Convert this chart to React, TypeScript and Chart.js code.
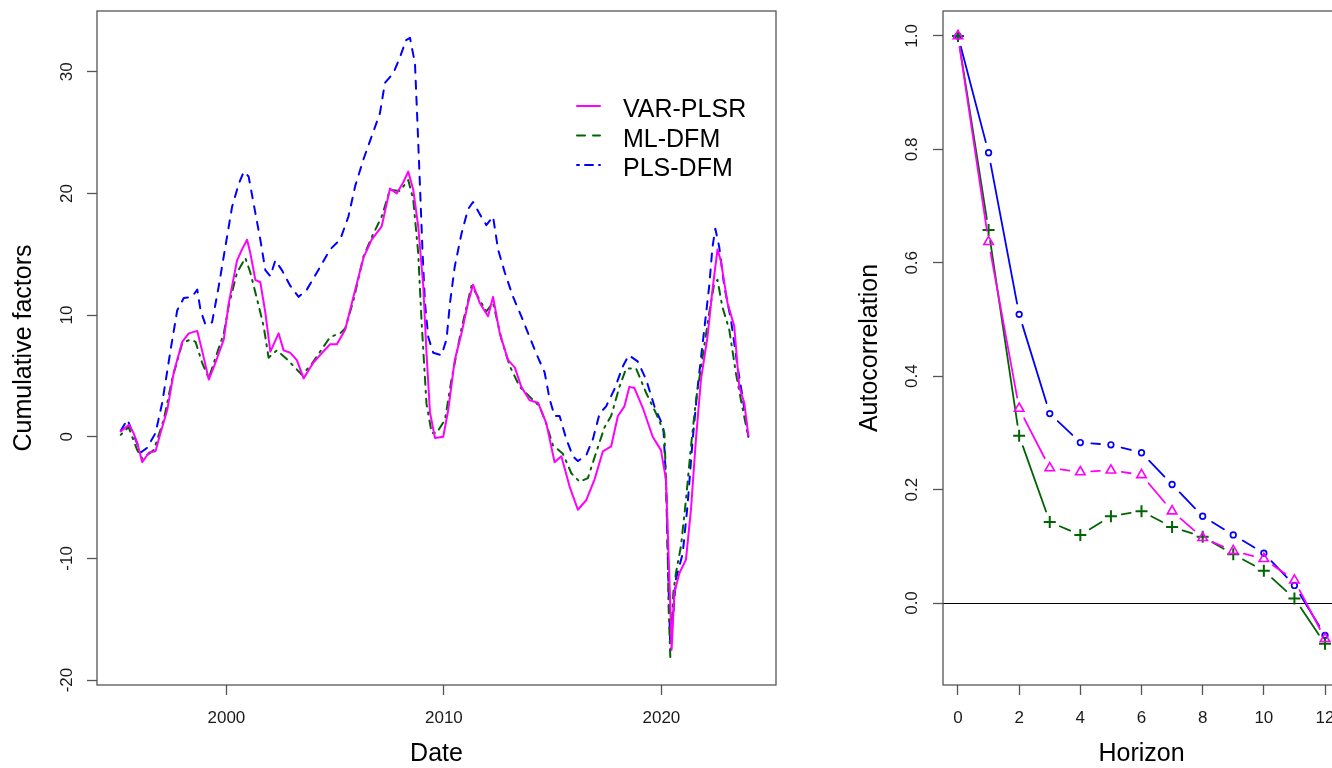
import React, { useEffect, useRef } from "react";
import { Chart, registerables } from "chart.js";

Chart.register(...registerables);

// ---------- Left panel: cumulative factors ----------
const varDates = [1995.14, 1995.52, 1995.73, 1995.9, 1996.13, 1996.44, 1996.74, 1996.97, 1997.28, 1997.58, 1997.97, 1998.27, 1998.66, 1998.88, 1999.19, 1999.5, 1999.88, 2000.11, 2000.49, 2000.72, 2000.95, 2001.1, 2001.33, 2001.56, 2001.79, 2002.02, 2002.4, 2002.63, 2002.94, 2003.24, 2003.55, 2004.0, 2004.4, 2004.77, 2005.08, 2005.46, 2005.84, 2006.3, 2006.68, 2007.14, 2007.52, 2007.83, 2008.13, 2008.36, 2008.59, 2008.82, 2009.05, 2009.2, 2009.36, 2009.59, 2009.97, 2010.2, 2010.5, 2010.81, 2011.11, 2011.34, 2011.65, 2012.03, 2012.26, 2012.57, 2012.95, 2013.26, 2013.56, 2013.94, 2014.33, 2014.71, 2015.09, 2015.4, 2015.78, 2016.16, 2016.55, 2016.93, 2017.31, 2017.69, 2018.0, 2018.3, 2018.53, 2018.76, 2019.14, 2019.6, 2019.98, 2020.21, 2020.37, 2020.47, 2020.6, 2020.83, 2021.13, 2021.36, 2021.59, 2021.82, 2022.12, 2022.35, 2022.58, 2022.73, 2023.04, 2023.35, 2023.58, 2023.81, 2024.0];
const varValues = [0.44, 0.99, 0.3, -0.5, -2.1, -1.3, -1.2, 0.3, 2.2, 5.3, 7.8, 8.5, 8.7, 7.1, 4.7, 6.1, 8.0, 11.0, 14.5, 15.4, 16.2, 15.1, 12.9, 12.7, 10.2, 7.0, 8.5, 7.1, 6.9, 6.3, 4.8, 6.1, 6.9, 7.6, 7.6, 8.8, 11.5, 14.7, 16.2, 17.3, 20.4, 20.0, 20.9, 21.8, 20.3, 17.3, 12.4, 6.9, 2.0, -0.1, 0.0, 2.2, 6.3, 8.5, 11.0, 12.5, 11.0, 9.9, 11.5, 8.5, 6.3, 5.7, 4.1, 3.0, 2.8, 1.1, -2.1, -1.6, -4.1, -6.0, -5.2, -3.5, -1.2, -0.8, 1.7, 2.5, 4.1, 4.0, 2.4, 0.0, -1.1, -3.5, -11.7, -17.5, -12.8, -11.2, -10.1, -6.0, -0.2, 4.7, 8.2, 12.1, 15.4, 14.5, 11.0, 9.1, 4.1, 2.8, 0.1];

const mlDates = [1995.14, 1995.5, 1995.9, 1996.13, 1996.66, 1997.12, 1997.5, 1997.97, 1998.35, 1998.58, 1998.88, 1999.19, 1999.5, 1999.88, 2000.11, 2000.49, 2000.87, 2001.1, 2001.41, 2001.71, 2001.94, 2002.32, 2002.71, 2003.09, 2003.47, 2003.85, 2004.31, 2004.77, 2005.23, 2005.46, 2005.84, 2006.3, 2006.68, 2007.14, 2007.52, 2007.98, 2008.36, 2008.59, 2008.82, 2008.97, 2009.2, 2009.44, 2009.66, 2010.05, 2010.35, 2010.81, 2011.27, 2011.57, 2011.95, 2012.26, 2012.65, 2013.03, 2013.49, 2013.94, 2014.4, 2014.7, 2015.01, 2015.47, 2015.86, 2016.24, 2016.62, 2017.0, 2017.39, 2017.69, 2018.07, 2018.38, 2018.84, 2019.3, 2019.76, 2020.14, 2020.26, 2020.33, 2020.41, 2020.55, 2020.67, 2020.9, 2021.13, 2021.36, 2021.59, 2021.9, 2022.2, 2022.43, 2022.58, 2022.8, 2023.12, 2023.43, 2023.66, 2023.96];
const mlValues = [0.15, 0.8, -1.1, -1.8, -1.1, 1.4, 4.7, 7.7, 8.0, 7.8, 6.1, 4.8, 6.5, 8.5, 10.8, 13.5, 14.7, 13.5, 11.3, 9.1, 6.5, 7.1, 6.5, 5.8, 5.1, 5.8, 7.0, 8.2, 8.5, 8.9, 11.2, 14.8, 16.4, 18.1, 20.3, 20.2, 21.1, 19.5, 15.1, 9.6, 2.7, 0.3, 0.3, 1.4, 4.7, 8.9, 12.4, 11.5, 10.3, 11.0, 8.0, 5.8, 4.1, 3.3, 2.5, 1.1, -0.7, -1.4, -3.0, -3.7, -3.4, -1.3, 0.8, 1.7, 4.1, 5.6, 5.6, 3.6, 1.9, 0.3, -6.3, -13.9, -18.1, -12.8, -11.2, -9.0, -5.2, -0.8, 3.0, 6.6, 10.2, 12.6, 12.9, 10.7, 8.8, 5.2, 3.0, 0.3];

const plsDates = [1995.14, 1995.45, 1995.68, 1996.06, 1996.36, 1996.74, 1997.05, 1997.43, 1997.74, 1998.04, 1998.42, 1998.66, 1998.81, 1999.04, 1999.34, 1999.65, 1999.95, 2000.26, 2000.57, 2000.8, 2001.02, 2001.33, 2001.56, 2001.79, 2002.02, 2002.25, 2002.55, 2002.94, 2003.32, 2003.7, 2004.16, 2004.77, 2005.23, 2005.61, 2005.92, 2006.3, 2006.68, 2007.06, 2007.29, 2007.68, 2007.98, 2008.26, 2008.44, 2008.67, 2008.78, 2008.9, 2009.02, 2009.13, 2009.28, 2009.51, 2009.89, 2010.12, 2010.28, 2010.5, 2010.81, 2011.11, 2011.34, 2011.65, 2011.95, 2012.26, 2012.49, 2012.8, 2013.18, 2013.56, 2013.94, 2014.33, 2014.63, 2014.86, 2015.09, 2015.32, 2015.63, 2015.93, 2016.16, 2016.55, 2016.85, 2017.16, 2017.46, 2017.84, 2018.23, 2018.5, 2018.91, 2019.3, 2019.68, 2020.09, 2020.21, 2020.32, 2020.4, 2020.55, 2020.67, 2020.98, 2021.2, 2021.44, 2021.67, 2021.97, 2022.2, 2022.35, 2022.48, 2022.66, 2022.89, 2023.2, 2023.5, 2023.73, 2024.0];
const plsValues = [0.5, 1.4, 0.4, -1.3, -0.9, 0.3, 2.8, 7.1, 10.4, 11.4, 11.5, 12.1, 10.4, 9.2, 9.4, 12.4, 15.6, 18.9, 20.8, 21.8, 21.4, 18.4, 16.2, 13.7, 13.2, 14.5, 13.7, 12.4, 11.5, 12.1, 13.5, 15.4, 16.2, 18.1, 20.6, 22.8, 24.7, 26.6, 29.1, 29.9, 31.2, 32.6, 32.8, 30.7, 26.0, 20.6, 15.1, 11.0, 8.2, 6.9, 6.7, 8.0, 11.0, 14.0, 16.7, 18.7, 19.3, 18.3, 17.4, 18.1, 15.4, 13.5, 11.5, 9.9, 8.2, 6.5, 5.3, 3.1, 1.7, 1.7, -0.2, -1.6, -2.0, -1.5, -0.2, 1.9, 2.5, 3.9, 5.8, 6.7, 6.2, 4.7, 2.5, 0.8, -3.5, -11.7, -16.7, -14.5, -11.7, -9.6, -5.7, -0.2, 4.1, 8.8, 12.4, 15.6, 17.1, 15.6, 12.4, 9.6, 5.8, 3.3, 0.0];

const dateTicks = [2000, 2010, 2020];
const cumTicks = [-20, -10, 0, 10, 20, 30];
const legendLabels = ["VAR-PLSR", "ML-DFM", "PLS-DFM"];

// ---------- Right panel: autocorrelation ----------
const horizons = [0, 1, 2, 3, 4, 5, 6, 7, 8, 9, 10, 11, 12];
const acfVar = [1.0, 0.637, 0.343, 0.238, 0.231, 0.234, 0.226, 0.162, 0.115, 0.092, 0.078, 0.04, -0.063];
const acfMl = [1.0, 0.658, 0.295, 0.143, 0.12, 0.153, 0.162, 0.134, 0.117, 0.086, 0.057, 0.008, -0.072];
const acfPls = [1.0, 0.794, 0.509, 0.334, 0.283, 0.279, 0.265, 0.209, 0.153, 0.12, 0.088, 0.031, -0.057];
const horizonTicks = [0, 2, 4, 6, 8, 10, 12];
const acfTicks = [0, 0.2, 0.4, 0.6, 0.8, 1.0];
const zeroLevel = 0;

// ---------- styling ----------
const FONT = '"Liberation Sans", Arial, Helvetica, sans-serif';
const MAGENTA = "#FF00FF";
const GREEN = "#006400";
const BLUE = "#0000FF";
const AXIS = "#555555";
const TEXT = "#1a1a1a";
const DASHED = [8, 8];
const DOTDASH = [2, 6, 8, 6];
const GAP = 11; // px gap around points (R type = "b")

const pts = (xs: number[], ys: number[]) => xs.map((x, i) => ({ x, y: ys[i] }));

function makeAxis(o: {
  min: number;
  max: number;
  ticks: number[];
  fmt: (v: number) => string;
  title: string;
  vertical: boolean;
  size: number;
  labelPad: number;
  titlePad: any;
}) {
  return {
    type: "linear",
    bounds: "data",
    min: o.min,
    max: o.max,
    afterBuildTicks: (s: any) => {
      s.ticks = o.ticks.map((v) => ({ value: v }));
    },
    afterFit: (s: any) => {
      if (o.vertical) s.width = o.size;
      else s.height = o.size;
      s.paddingLeft = 0;
      s.paddingRight = 0;
      s.paddingTop = 0;
      s.paddingBottom = 0;
    },
    grid: {
      display: true,
      drawOnChartArea: false,
      drawTicks: true,
      tickLength: 10,
      tickColor: AXIS,
      tickWidth: 1.3,
      color: AXIS,
    },
    border: { display: false },
    ticks: {
      autoSkip: false,
      color: TEXT,
      font: { family: FONT, size: 17 },
      padding: o.labelPad,
      minRotation: o.vertical ? 90 : 0,
      maxRotation: o.vertical ? 90 : 0,
      crossAlign: o.vertical ? "center" : "near",
      callback: (v: any) => o.fmt(Number(v)),
    },
    title: {
      display: true,
      text: o.title,
      color: "#000",
      font: { family: FONT, size: 25, lineHeight: 1 },
      padding: o.titlePad,
    },
  };
}

const boxPlugin = {
  id: "rbox",
  afterDraw(chart: any) {
    const { ctx, chartArea: a } = chart;
    ctx.save();
    ctx.strokeStyle = AXIS;
    ctx.lineWidth = 1.3;
    ctx.strokeRect(a.left, a.top, a.right - a.left, a.bottom - a.top);
    ctx.restore();
  },
};

const legendPlugin = {
  id: "rlegend",
  afterDraw(chart: any) {
    const { ctx, chartArea: a } = chart;
    const items = [
      { color: MAGENTA, dash: [] as number[] },
      { color: GREEN, dash: DASHED },
      { color: BLUE, dash: DOTDASH },
    ];
    ctx.save();
    items.forEach((it, i) => {
      const base = a.top + 106 + i * 29.5;
      const ly = base - 11;
      ctx.beginPath();
      ctx.setLineDash(it.dash);
      ctx.lineCap = "round";
      ctx.lineWidth = 2;
      ctx.strokeStyle = it.color;
      ctx.moveTo(a.right - 199, ly);
      ctx.lineTo(a.right - 176, ly);
      ctx.stroke();
      ctx.setLineDash([]);
      ctx.fillStyle = "#000";
      ctx.font = `25px ${FONT}`;
      ctx.textAlign = "left";
      ctx.textBaseline = "alphabetic";
      ctx.fillText(legendLabels[i], a.right - 153, base);
    });
    ctx.restore();
  },
};

const zeroLinePlugin = {
  id: "zeroline",
  beforeDatasetsDraw(chart: any) {
    const { ctx, chartArea: a, scales } = chart;
    const y = Math.round(scales.y.getPixelForValue(zeroLevel)) + 0.5;
    ctx.save();
    ctx.strokeStyle = "#000";
    ctx.lineWidth = 1;
    ctx.beginPath();
    ctx.moveTo(a.left, y);
    ctx.lineTo(a.right, y);
    ctx.stroke();
    ctx.restore();
  },
};

// Each segment between two points is drawn as its own dashed path whose
// single dash leaves a GAP-pixel hole at both ends (R's type = "b").
function segInfo(ctx: any) {
  const { p0, p1, p0DataIndex } = ctx;
  const L = Math.hypot(p1.x - p0.x, p1.y - p0.y);
  const D = Math.max(L - 2 * GAP, 0.01);
  const G = 100000;
  const period = D + G;
  return { D, G, off: period - GAP + (p0DataIndex || 0) * period };
}
const gapSegment = {
  borderDash: (ctx: any) => {
    const s = segInfo(ctx);
    return [s.D, s.G];
  },
  borderDashOffset: (ctx: any) => segInfo(ctx).off,
};

function LeftChart() {
  const ref = useRef<HTMLCanvasElement>(null);
  useEffect(() => {
    if (!ref.current) return;
    const chart = new Chart(ref.current, {
      type: "line",
      data: {
        datasets: [
          { label: legendLabels[0], data: pts(varDates, varValues), borderColor: MAGENTA, borderDash: [] },
          { label: legendLabels[1], data: pts(mlDates, mlValues), borderColor: GREEN, borderDash: DOTDASH },
          { label: legendLabels[2], data: pts(plsDates, plsValues), borderColor: BLUE, borderDash: DASHED },
        ],
      },
      options: {
        responsive: false,
        animation: false,
        devicePixelRatio: 1,
        layout: { padding: { top: 11, right: 24, left: 0, bottom: 0 } },
        elements: {
          point: { radius: 0, hoverRadius: 0 },
          line: { tension: 0, borderWidth: 2, borderCapStyle: "round", borderJoinStyle: "round", fill: false },
        },
        plugins: { legend: { display: false }, tooltip: { enabled: false } },
        events: [],
        scales: {
          x: makeAxis({
            min: 1994.05,
            max: 2025.27,
            ticks: dateTicks,
            fmt: (v) => String(v),
            title: "Date",
            vertical: false,
            size: 83,
            labelPad: 13,
            titlePad: { top: 0, bottom: 1.2 },
          }),
          y: makeAxis({
            min: -20.41,
            max: 35.0,
            ticks: cumTicks,
            fmt: (v) => String(v),
            title: "Cumulative factors",
            vertical: true,
            size: 97,
            labelPad: 7.7,
            titlePad: { top: 12, bottom: 0 },
          }),
        },
      } as any,
      plugins: [boxPlugin, legendPlugin],
    });
    return () => chart.destroy();
  }, []);
  return (
    <canvas
      ref={ref}
      width={800}
      height={768}
      style={{ position: "absolute", left: 0, top: 0, width: 800, height: 768 }}
    />
  );
}

function RightChart() {
  const ref = useRef<HTMLCanvasElement>(null);
  useEffect(() => {
    if (!ref.current) return;
    const series = [
      { label: legendLabels[0], vals: acfVar, color: MAGENTA, style: "triangle", r: 5.5, bw: 1.6 },
      { label: legendLabels[1], vals: acfMl, color: GREEN, style: "cross", r: 6, bw: 2 },
      { label: legendLabels[2], vals: acfPls, color: BLUE, style: "circle", r: 2.8, bw: 1.7 },
    ];
    const datasets: any[] = [];
    series.forEach((s) => {
      datasets.push({
        label: s.label,
        data: pts(horizons, s.vals),
        borderColor: s.color,
        borderWidth: 1.8,
        pointRadius: 0,
        segment: gapSegment,
      });
      datasets.push({
        label: s.label + " points",
        data: pts(horizons, s.vals),
        showLine: false,
        pointStyle: s.style,
        pointRadius: s.r,
        pointBorderColor: s.color,
        pointBackgroundColor: "rgba(0,0,0,0)",
        pointBorderWidth: s.bw,
      });
    });
    const chart = new Chart(ref.current, {
      type: "line",
      data: { datasets },
      options: {
        responsive: false,
        animation: false,
        devicePixelRatio: 1,
        layout: { padding: { top: 11, right: 20, left: 0, bottom: 0 } },
        elements: {
          point: { hoverRadius: 0 },
          line: { tension: 0, borderCapStyle: "round", borderJoinStyle: "round", fill: false },
        },
        plugins: { legend: { display: false }, tooltip: { enabled: false } },
        events: [],
        scales: {
          x: makeAxis({
            min: -0.49,
            max: 12.49,
            ticks: horizonTicks,
            fmt: (v) => String(v),
            title: "Horizon",
            vertical: false,
            size: 83,
            labelPad: 13,
            titlePad: { top: 0, bottom: 1.2 },
          }),
          y: makeAxis({
            min: -0.1446,
            max: 1.044,
            ticks: acfTicks,
            fmt: (v) => v.toFixed(1),
            title: "Autocorrelation",
            vertical: true,
            size: 123,
            labelPad: 9.2,
            titlePad: { top: 37.8, bottom: 0 },
          }),
        },
      } as any,
      plugins: [boxPlugin, zeroLinePlugin],
    });
    return () => chart.destroy();
  }, []);
  return (
    <canvas
      ref={ref}
      width={540}
      height={768}
      style={{ position: "absolute", left: 820, top: 0, width: 540, height: 768 }}
    />
  );
}

export default function App() {
  return (
    <div
      style={{
        position: "fixed",
        left: 0,
        top: 0,
        width: 1332,
        height: 768,
        overflow: "hidden",
        background: "#ffffff",
      }}
    >
      <LeftChart />
      <RightChart />
    </div>
  );
}
